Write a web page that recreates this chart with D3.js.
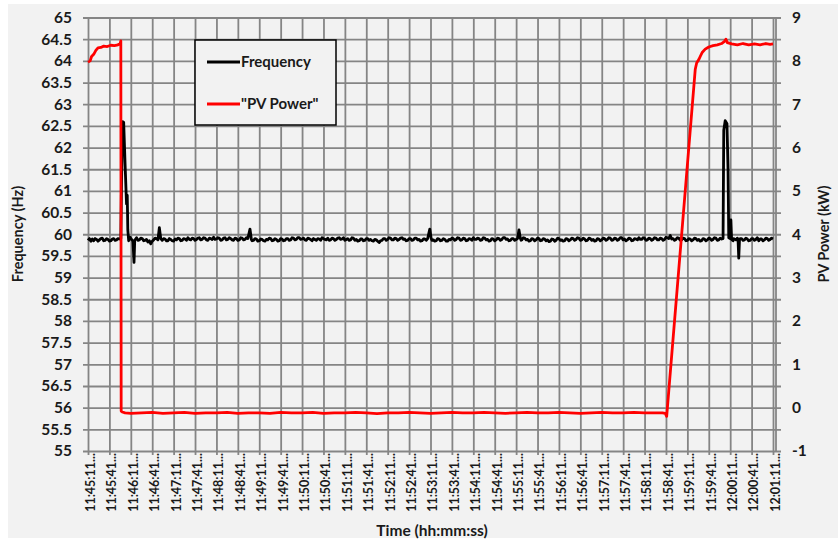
<!DOCTYPE html>
<html>
<head>
<meta charset="utf-8">
<script src="https://cdn.jsdelivr.net/npm/d3@7"></script>
<style>
body { margin: 0; background: #fff; }
text { font-family: Lato, "Open Sans", sans-serif; font-weight: bold; fill: #1a1a1a; }
</style>
</head>
<body>
<script>
var width = 838, height = 544;

// tick labels
var freqTicks = [55,55.5,56,56.5,57,57.5,58,58.5,59,59.5,60,60.5,61,61.5,62,62.5,63,63.5,64,64.5,65];
var powerTicks = [-1,0,1,2,3,4,5,6,7,8,9];
var timeLabels = ["11:45:11","11:45:41","11:46:11","11:46:41","11:47:11","11:47:41","11:48:11","11:48:41",
  "11:49:11","11:49:41","11:50:11","11:50:41","11:51:11","11:51:41","11:52:11","11:52:41","11:53:11",
  "11:53:41","11:54:11","11:54:41","11:55:11","11:55:41","11:56:11","11:56:41","11:57:11","11:57:41",
  "11:58:11","11:58:41","11:59:11","11:59:41","12:00:11","12:00:41","12:01:11"];
// seconds after 11:45:11 for each label
var timeSec = [0,30,60,90,120,150,180,210,240,270,300,330,360,390,420,450,480,510,540,570,600,630,660,
  690,720,750,780,810,840,870,900,930,960];

// frequency (Hz), [seconds, value]
var freqData = [[0,59.86],[2,59.9],[4,59.84],[6,59.89],[8,59.85],[10,59.9],[12,59.88],[14,59.84],[16,59.87],[18,59.9],[20,59.91],
  [22,59.85],[24,59.86],[26,59.9],[28,59.88],[30,59.84],[32,59.85],[34,59.89],[36,59.9],[38,59.86],[40,59.87],[42,59.9],
  [44,59.89],[46,59.9],[47,61.2],[48.5,62.6],[50,62.58],[52,61.6],[54,60.7],[55,60.9],
  [55.8,60.1],[57,59.85],[59,59.93],[61,59.88],[63,59.84],[64.5,59.35],[65.5,59.86],[68,59.92],[70,59.86],[72,59.87],[74,59.91],
  [76,59.9],[78,59.85],[80,59.86],[82,59.88],[84,59.82],[86,59.85],[88,59.78],[90,59.84],[92,59.87],[94,59.91],[96,59.9],[98,59.87],
  [100,60.15],[102,59.9],[104,59.86],[106,59.9],[108,59.89],[110,59.85],[112,59.85],[114,59.9],
  [116,59.88],[118,59.85],[120,59.84],[122,59.89],[124,59.87],[126,59.91],[128,59.9],[130,59.85],[132,59.86],[134,59.9],[136,59.89],
  [138,59.86],[140,59.92],[142,59.88],[144,59.87],[146,59.91],[148,59.9],[150,59.86],[152,59.88],[154,59.91],
  [156,59.92],[158,59.87],[160,59.88],[162,59.92],[164,59.91],[166,59.87],[168,59.86],[170,59.91],[172,59.9],[174,59.88],[176,59.93],
  [178,59.88],[180,59.89],[182,59.92],[184,59.91],[186,59.86],[188,59.87],[190,59.91],[192,59.92],[194,59.87],
  [196,59.88],[198,59.92],[200,59.9],[202,59.87],[204,59.86],[206,59.91],[208,59.9],[210,59.86],[212,59.87],[214,59.92],[216,59.91],
  [218,59.87],[220,59.88],[222,59.92],[224,59.9],[227,60.12],[229,59.88],[230,59.85],[232,59.86],[234,59.9],
  [236,59.89],[238,59.84],[240,59.85],[242,59.89],[244,59.88],[246,59.85],[248,59.84],[250,59.88],[252,59.87],[254,59.91],[256,59.9],
  [258,59.85],[260,59.86],[262,59.9],[264,59.88],[266,59.84],[268,59.85],[270,59.9],[272,59.89],[274,59.85],
  [276,59.86],[278,59.9],[280,59.9],[282,59.86],[284,59.87],[286,59.92],[288,59.91],[290,59.87],[292,59.88],[294,59.92],[296,59.92],
  [298,59.88],[300,59.89],[302,59.91],[304,59.87],[306,59.86],[308,59.91],[310,59.9],[312,59.88],[314,59.85],
  [316,59.9],[318,59.88],[320,59.86],[322,59.9],[324,59.89],[326,59.86],[328,59.92],[330,59.9],[332,59.88],[334,59.87],[336,59.91],
  [338,59.86],[340,59.87],[342,59.91],[344,59.9],[346,59.86],[348,59.88],[350,59.91],[352,59.92],[354,59.88],
  [356,59.89],[358,59.92],[360,59.86],[362,59.88],[364,59.9],[366,59.86],[368,59.87],[370,59.92],[372,59.91],[374,59.86],[376,59.88],
  [378,59.84],[380,59.85],[382,59.89],[384,59.89],[386,59.85],[388,59.86],[390,59.9],[392,59.9],[394,59.86],
  [396,59.88],[398,59.85],[400,59.84],[402,59.88],[404,59.87],[406,59.84],[408,59.81],[410,59.85],[412,59.86],[414,59.9],[416,59.9],
  [418,59.86],[420,59.88],[422,59.92],[424,59.91],[426,59.87],[428,59.87],[430,59.91],[432,59.9],[434,59.86],
  [436,59.88],[438,59.91],[440,59.92],[442,59.88],[444,59.89],[446,59.85],[448,59.86],[450,59.9],[452,59.9],[454,59.86],[456,59.87],
  [458,59.91],[460,59.91],[462,59.87],[464,59.88],[466,59.84],[468,59.85],[470,59.89],[472,59.89],[474,59.86],
  [476,59.9],[479,60.12],[481,59.9],[482,59.86],[484,59.87],[486,59.84],[488,59.85],[490,59.9],[492,59.89],[494,59.85],[496,59.86],
  [498,59.9],[500,59.88],[502,59.84],[504,59.84],[506,59.88],[508,59.87],[510,59.91],[512,59.9],[514,59.86],
  [516,59.88],[518,59.92],[520,59.91],[522,59.86],[524,59.87],[526,59.91],[528,59.9],[530,59.85],[532,59.86],[534,59.9],[536,59.89],
  [538,59.86],[540,59.92],[542,59.88],[544,59.88],[546,59.91],[548,59.9],[550,59.86],[552,59.87],[554,59.92],
  [556,59.91],[558,59.87],[560,59.88],[562,59.84],[564,59.85],[566,59.9],[568,59.89],[570,59.85],[572,59.87],[574,59.91],[576,59.9],
  [578,59.86],[580,59.88],[582,59.92],[584,59.92],[586,59.88],[588,59.89],[590,59.85],[592,59.86],[594,59.9],
  [596,59.9],[598,59.86],[600,59.88],[602,59.9],[604,60.1],[606,59.9],[607,59.86],[608,59.87],[610,59.92],[612,59.91],[614,59.87],
  [616,59.88],[618,59.84],[620,59.85],[622,59.9],[624,59.89],[626,59.85],[628,59.87],[630,59.91],[632,59.9],[634,59.85],
  [636,59.86],[638,59.9],[640,59.89],[642,59.85],[644,59.87],[646,59.83],[648,59.84],[650,59.89],[652,59.88],[654,59.84],[656,59.86],
  [658,59.91],[660,59.9],[662,59.86],[664,59.87],[666,59.84],[668,59.85],[670,59.9],[672,59.89],[674,59.85],
  [676,59.87],[678,59.91],[680,59.9],[682,59.86],[684,59.88],[686,59.92],[688,59.91],[690,59.86],[692,59.87],[694,59.91],[696,59.89],
  [698,59.85],[700,59.86],[702,59.91],[704,59.9],[706,59.86],[708,59.88],[710,59.84],[712,59.85],[714,59.9],
  [716,59.89],[718,59.85],[720,59.87],[722,59.91],[724,59.9],[726,59.86],[728,59.88],[730,59.92],[732,59.91],[734,59.86],[736,59.87],
  [738,59.91],[740,59.9],[742,59.86],[744,59.88],[746,59.92],[748,59.92],[750,59.87],[752,59.89],[754,59.85],
  [756,59.87],[758,59.91],[760,59.9],[762,59.85],[764,59.86],[766,59.9],[768,59.89],[770,59.87],[772,59.92],[774,59.88],[776,59.88],
  [778,59.92],[780,59.91],[782,59.86],[784,59.87],[786,59.91],[788,59.9],[790,59.86],[792,59.88],[794,59.92],
  [796,59.91],[798,59.87],[800,59.87],[802,59.91],[804,59.9],[806,59.86],[808,59.88],[810,59.93],[812,59.92],[814,59.9],[816,59.97],
  [818,59.89],[820,59.9],[822,59.86],[824,59.88],[826,59.92],[828,59.91],[830,59.86],[832,59.87],[834,59.91],
  [836,59.9],[838,59.85],[840,59.86],[842,59.9],[844,59.89],[846,59.85],[848,59.87],[850,59.91],[852,59.9],[854,59.86],[856,59.88],
  [858,59.84],[860,59.85],[862,59.9],[864,59.89],[866,59.85],[868,59.87],[870,59.91],[872,59.9],[874,59.86],
  [876,59.88],[878,59.92],[880,59.91],[882,59.86],[884,59.87],[886,59.91],[888,59.89],[890,59.9],[891,62.4],[893,62.62],[895.5,62.55],
  [897,61.5],[898,59.92],[900,59.9],[901,60.33],[902,59.88],[904,59.85],[905,59.9],[908,59.87],[910,59.91],[911,59.88],[912,59.45],
  [913,59.86],[914,59.9],[916,59.9],[918,59.86],[920,59.87],[922,59.91],[924,59.89],[926,59.85],[928,59.86],[930,59.9],[932,59.9],
  [934,59.86],[936,59.88],[938,59.92],[940,59.85],[942,59.89],[944,59.89],[946,59.85],[948,59.87],[950,59.91],[952,59.9],
  [954,59.86],[956,59.88],[958,59.91],[960,59.89]];

// PV power (kW), [seconds, value]
var powerData = [[0,7.97],[3,8.0],[5,8.1],[8,8.15],[11,8.24],[14,8.3],[18,8.31],[22,8.34],[27,8.33],[32,8.36],
  [37,8.35],[42,8.37],[45,8.4],[46,8.46],[46.5,-0.08],[48,-0.1],[52,-0.12],[60,-0.13],[75,-0.12],[90,-0.11],
  [105,-0.13],[120,-0.12],[135,-0.11],[150,-0.13],[165,-0.12],[180,-0.12],[195,-0.11],[210,-0.13],[225,-0.12],
  [240,-0.12],[255,-0.13],[270,-0.11],[285,-0.12],[300,-0.12],[315,-0.11],[330,-0.13],[345,-0.12],[360,-0.12],
  [375,-0.11],[390,-0.12],[405,-0.14],[420,-0.12],[435,-0.12],[450,-0.11],[465,-0.12],[480,-0.13],[495,-0.12],
  [510,-0.11],[525,-0.12],[540,-0.12],[555,-0.11],[570,-0.12],[585,-0.13],[600,-0.12],[615,-0.11],[630,-0.12],
  [645,-0.12],[660,-0.11],[675,-0.12],[690,-0.13],[705,-0.12],[720,-0.11],[735,-0.12],[750,-0.12],[765,-0.11],
  [780,-0.12],[795,-0.12],[805,-0.12],[809,-0.13],[811,-0.2],[851,7.8],[853,7.95],[856,8.03],[858,8.1],
  [861,8.2],[865,8.27],[870,8.32],[876,8.35],[882,8.37],[888,8.4],[892,8.45],[894,8.5],[896,8.42],[902,8.39],
  [910,8.37],[918,8.4],[926,8.37],[934,8.39],[942,8.37],[950,8.4],[956,8.38],[960,8.39]];

var plot = {left: 88, right: 773, top: 17.5, bottom: 451};

var svg = d3.select("body").append("svg")
  .attr("width", width)
  .attr("height", height);

svg.append("rect")
  .attr("x", 8).attr("y", 4)
  .attr("width", width - 8).attr("height", 534)
  .attr("fill", "#f2f2f2");

var xScale = d3.scaleLinear().domain([0, 960]).range([plot.left, plot.right]);
var yFreq = d3.scaleLinear().domain([55, 65]).range([plot.bottom, plot.top]);
var yPower = d3.scaleLinear().domain([-1, 9]).range([plot.bottom, plot.top]);

var gridColor = "#858585";
var gridWidth = 1.8;

// left axis + horizontal grid
var yAxisLeft = d3.axisLeft(yFreq)
  .tickValues(freqTicks)
  .tickFormat(function(d) { return String(d); })
  .tickSize(-(plot.right - plot.left))
  .tickPadding(16);

var gl = svg.append("g")
  .attr("transform", "translate(" + plot.left + ",0)")
  .call(yAxisLeft);
gl.select(".domain").remove();
gl.selectAll(".tick line")
  .attr("x1", -5).attr("x2", plot.right - plot.left + 8)
  .attr("stroke", gridColor).attr("stroke-width", gridWidth);
gl.selectAll(".tick text")
  .attr("font-size", 15.5).attr("font-family", "Lato, sans-serif").attr("fill", "#1a1a1a");

// bottom axis + vertical grid
var xAxis = d3.axisBottom(xScale)
  .tickValues(timeSec)
  .tickFormat(function(d, i) { return timeLabels[i] + "..."; })
  .tickSize(-(plot.bottom - plot.top));

var gx = svg.append("g")
  .attr("transform", "translate(0," + plot.bottom + ")")
  .call(xAxis);
gx.select(".domain").remove();
gx.selectAll(".tick line")
  .attr("y1", 4).attr("y2", -(plot.bottom - plot.top))
  .attr("stroke", gridColor).attr("stroke-width", gridWidth);
gx.selectAll(".tick text")
  .attr("font-size", 12.5).attr("font-family", "Lato, sans-serif").attr("fill", "#1a1a1a")
  .attr("transform", "rotate(-90)")
  .attr("text-anchor", "end")
  .attr("x", -2).attr("y", 2).attr("dy", "0.35em");

// right axis line and labels
svg.append("line")
  .attr("x1", 776).attr("x2", 776)
  .attr("y1", plot.top).attr("y2", plot.bottom)
  .attr("stroke", gridColor).attr("stroke-width", gridWidth);

var yAxisRight = d3.axisRight(yPower)
  .tickValues(powerTicks)
  .tickFormat(function(d) { return String(d); })
  .tickSize(0)
  .tickPadding(16);
var gr = svg.append("g")
  .attr("transform", "translate(776,0)")
  .call(yAxisRight);
gr.select(".domain").remove();
gr.selectAll(".tick text")
  .attr("font-size", 15.5).attr("font-family", "Lato, sans-serif").attr("fill", "#1a1a1a");

// series
var freqLine = d3.line()
  .x(function(d) { return xScale(d[0]); })
  .y(function(d) { return yFreq(d[1]); });
var powerLine = d3.line()
  .x(function(d) { return xScale(d[0]); })
  .y(function(d) { return yPower(d[1]); });

svg.append("path")
  .attr("d", freqLine(freqData))
  .attr("fill", "none")
  .attr("stroke", "#000")
  .attr("stroke-width", 2.8)
  .attr("stroke-linejoin", "round");

svg.append("path")
  .attr("d", powerLine(powerData))
  .attr("fill", "none")
  .attr("stroke", "#ff0000")
  .attr("stroke-width", 2.8)
  .attr("stroke-linejoin", "round");

// legend
var legend = svg.append("g");
legend.append("rect")
  .attr("x", 195).attr("y", 40)
  .attr("width", 141).attr("height", 85)
  .attr("fill", "#f2f2f2")
  .attr("stroke", "#000").attr("stroke-width", 1.5);

var legendItems = [{name: "Frequency", color: "#000"}, {name: "\"PV Power\"", color: "#ff0000"}];
legendItems.forEach(function(d, i) {
  var y = 62 + i * 42;
  legend.append("line")
    .attr("x1", 207).attr("x2", 240)
    .attr("y1", y).attr("y2", y)
    .attr("stroke", d.color).attr("stroke-width", 2.8);
  legend.append("text")
    .attr("x", 241).attr("y", y)
    .attr("dy", "0.35em")
    .attr("font-size", 15)
    .text(d.name);
});

// axis titles
svg.append("text")
  .attr("transform", "translate(23,234) rotate(-90)")
  .attr("text-anchor", "middle")
  .attr("font-size", 14.5)
  .text("Frequency (Hz)");

svg.append("text")
  .attr("transform", "translate(829,234) rotate(-90)")
  .attr("text-anchor", "middle")
  .attr("font-size", 14.5)
  .text("PV Power (kW)");

svg.append("text")
  .attr("x", 432).attr("y", 536)
  .attr("text-anchor", "middle")
  .attr("font-size", 15.5)
  .text("Time (hh:mm:ss)");
</script>
</body>
</html>
